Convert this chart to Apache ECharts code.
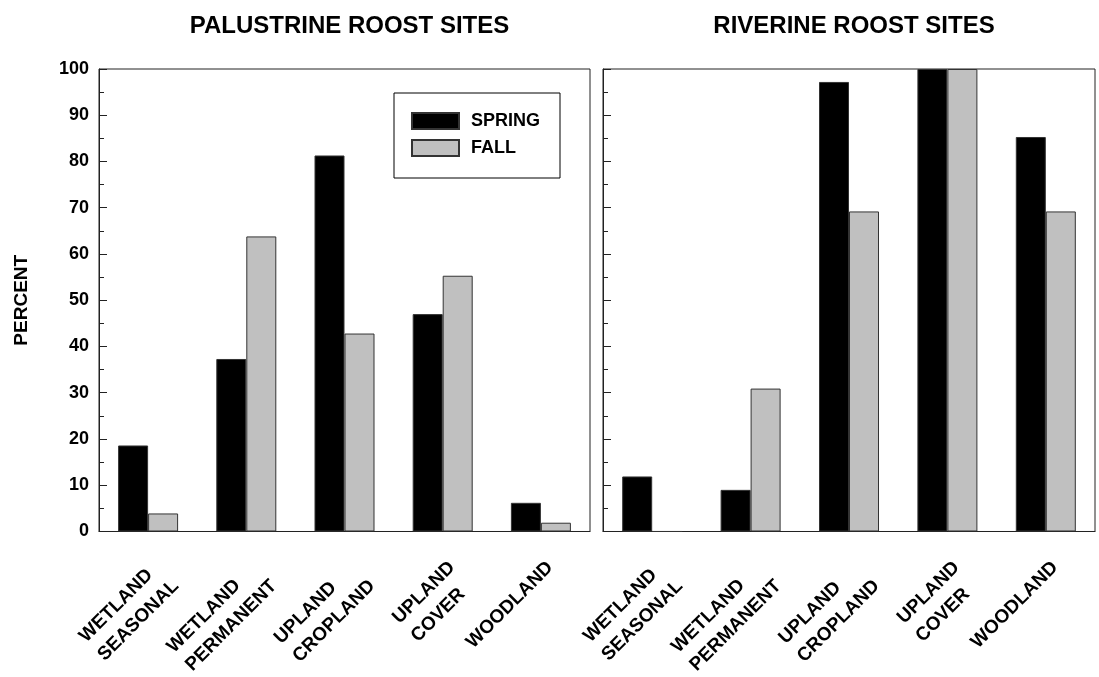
<!DOCTYPE html>
<html>
<head>
<meta charset="utf-8">
<title>Roost sites</title>
<script src="https://cdn.jsdelivr.net/npm/echarts@6/dist/echarts.min.js"></script>
<style>
  html, body { margin: 0; padding: 0; background: #fff; }
  #chart { width: 1099px; height: 677px; }
</style>
</head>
<body>
<div id="chart"></div>
<script>
// categories (two lines each)
const categories = ['WETLAND\nSEASONAL', 'WETLAND\nPERMANENT', 'UPLAND\nCROPLAND', 'UPLAND\nCOVER', 'WOODLAND']
const seriesNames = ['SPRING', 'FALL']
const panelTitles = ['PALUSTRINE ROOST SITES', 'RIVERINE ROOST SITES']

// percent values
const palustrineSpring = [18.6, 37.3, 81.3, 47.0, 6.2]
const palustrineFall = [3.9, 63.8, 42.8, 55.3, 1.9]
const riverineSpring = [11.9, 9.0, 97.2, 100, 85.3]
const riverineFall = [0, 30.9, 69.2, 100, 69.2]

// y range, labelled step and minor tick step
const yMin = 0
const yMax = 100
const yMajor = 10
const yMinor = 5

const FONT = "'Liberation Sans', Arial, sans-serif"
const LINE = '#222'

const chart = echarts.init(document.getElementById('chart'))

// one grid per panel
const grids = [
  { left: 99, top: 69, width: 491, height: 463 },
  { left: 603, top: 69, width: 492, height: 463 }
]

function makeXAxis (gridIndex) {
  return {
    type: 'category',
    gridIndex: gridIndex,
    data: categories,
    axisLine: { show: true, lineStyle: { color: LINE, width: 1 } },
    axisTick: { show: false },
    axisLabel: {
      rotate: 45,
      interval: 0,
      margin: 24,
      align: 'right',
      verticalAlign: 'top',
      formatter: function (value) {
        return value.split('\n').map(function (s) { return '{a|' + s + '}' }).join('\n')
      },
      rich: {
        a: { align: 'left', fontSize: 19, fontWeight: 'bold', fontFamily: FONT, color: '#000', lineHeight: 26 }
      }
    }
  }
}

// main y axis: line, long inside ticks every 10, labels on the left panel only
function makeYAxis (gridIndex, showLabels) {
  return {
    type: 'value',
    gridIndex: gridIndex,
    position: 'left',
    min: yMin,
    max: yMax,
    interval: yMajor,
    name: showLabels ? 'PERCENT' : '',
    nameLocation: 'middle',
    nameRotate: 90,
    nameGap: 68,
    nameTextStyle: { fontSize: 19, fontWeight: 'bold', fontFamily: FONT, color: '#000' },
    axisLine: { show: true, lineStyle: { color: LINE, width: 1 } },
    axisTick: { show: true, inside: true, length: 8, lineStyle: { color: LINE } },
    splitLine: { show: false },
    axisLabel: {
      show: showLabels,
      margin: 10,
      fontSize: 18,
      fontWeight: 'bold',
      fontFamily: FONT,
      color: '#000'
    }
  }
}

// second y axis on the same spot, only short inside ticks every 5
function makeMinorAxis (gridIndex) {
  return {
    type: 'value',
    gridIndex: gridIndex,
    position: 'left',
    offset: 0,
    min: yMin,
    max: yMax,
    interval: yMinor,
    axisLine: { show: false },
    axisTick: { show: true, inside: true, length: 5, lineStyle: { color: LINE } },
    axisLabel: { show: false },
    splitLine: { show: false }
  }
}

function makeBar (name, data, gridIndex, color) {
  return {
    name: name,
    type: 'bar',
    xAxisIndex: gridIndex,
    yAxisIndex: gridIndex,
    data: data,
    barWidth: 30,
    barGap: '0%',
    itemStyle: { color: color, borderColor: '#333', borderWidth: 1 },
    emphasis: { disabled: true }
  }
}

const titleStyle = { fontSize: 24, fontWeight: 'bold', fontFamily: FONT, color: '#000' }

const option = {
  animation: false,
  backgroundColor: '#fff',
  title: [
    { text: panelTitles[0], left: 99 + 491 / 2, top: 9, textAlign: 'center', textStyle: titleStyle },
    { text: panelTitles[1], left: 603 + 492 / 2, top: 9, textAlign: 'center', textStyle: titleStyle }
  ],
  legend: {
    data: seriesNames,
    orient: 'vertical',
    left: 394,
    top: 93,
    icon: 'rect',
    itemWidth: 47,
    itemHeight: 16,
    itemGap: 5,
    padding: [17, 20, 19, 17],
    borderColor: '#000',
    borderWidth: 1,
    selectedMode: false,
    textStyle: { fontSize: 18, fontWeight: 'bold', fontFamily: FONT, color: '#000', lineHeight: 22, padding: [0, 0, 0, 7] }
  },
  grid: grids.map(function (g) {
    return Object.assign({ show: true, borderColor: LINE, borderWidth: 1, backgroundColor: 'transparent' }, g)
  }),
  xAxis: [makeXAxis(0), makeXAxis(1)],
  yAxis: [makeYAxis(0, true), makeYAxis(1, false), makeMinorAxis(0), makeMinorAxis(1)],
  series: [
    makeBar(seriesNames[0], palustrineSpring, 0, '#000'),
    makeBar(seriesNames[1], palustrineFall, 0, '#c0c0c0'),
    makeBar(seriesNames[0], riverineSpring, 1, '#000'),
    makeBar(seriesNames[1], riverineFall, 1, '#c0c0c0')
  ]
}

chart.setOption(option)
</script>
</body>
</html>
